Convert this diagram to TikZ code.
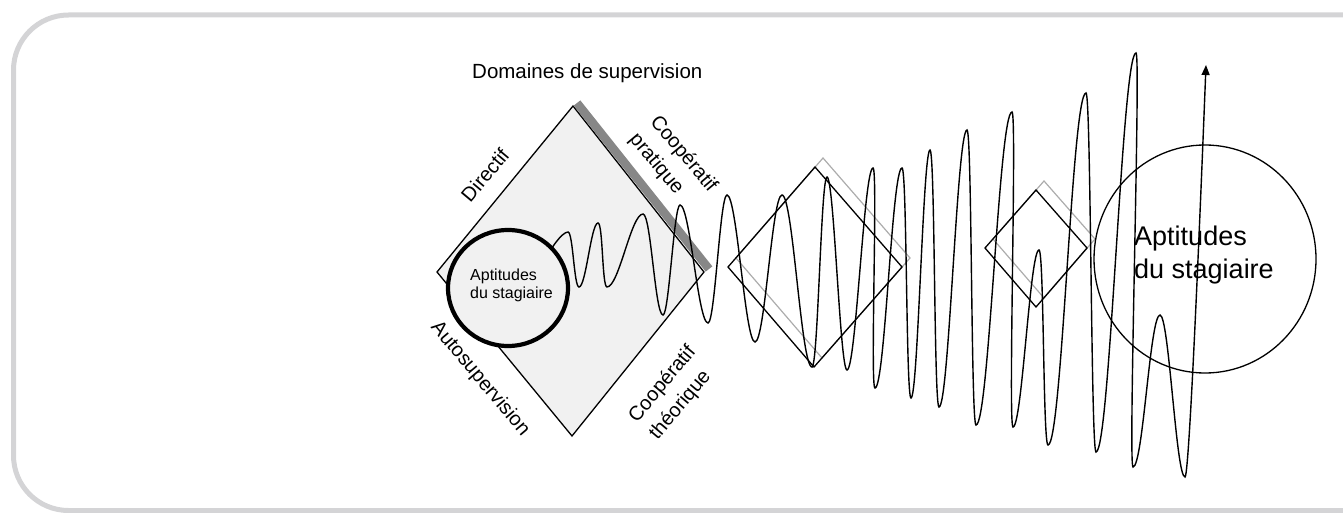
\documentclass[tikz,border=0pt]{standalone}
\usepackage{fontspec}
\setmainfont{Liberation Sans}
\usetikzlibrary{arrows.meta}
\definecolor{framegray}{RGB}{212,212,214}
\definecolor{dfill}{RGB}{241,241,241}
\definecolor{bargray}{RGB}{135,135,135}
\definecolor{ghostgray}{RGB}{172,172,172}
\newcommand{\fsz}[2]{\fontsize{#1}{#2}\selectfont}
\begin{document}
\begin{tikzpicture}[x=1pt,y=-1pt,
  outline/.style={line width=1.3pt, draw=black},
  ghostline/.style={line width=1.2pt, draw=ghostgray},
  wave/.style={line width=1.4pt, draw=black},
  lbl/.style={font=\fsz{20}{27}, inner sep=0pt},
]
\useasboundingbox (0,0) rectangle (1343,513);
\clip (0,0) rectangle (1343,513);
% frame
\draw[framegray, line width=5pt, rounded corners=55pt] (13.5,15) rectangle (1420,510.5);

% big diamond
\coordinate (L) at (437,272);
\coordinate (T) at (573,106);
\coordinate (R) at (704,272);
\coordinate (B) at (572,436);
\draw[outline, fill=dfill] (L) -- (T) -- (R) -- (B) -- cycle;
% grey bar
\coordinate (barA) at (577,103);
\coordinate (barB) at (709,269);
\draw[bargray, line width=8.5pt] (barA) -- (barB);

% ghost diamonds
\draw[ghostline] (736,258) -- (823,158) -- (910,258) -- (822,358) -- cycle;
\draw[ghostline] (993,239) -- (1044,181) -- (1095,239) -- (1044,298) -- cycle;

% wave
\coordinate (ws) at (545,262);
\coordinate (we) at (1206,65);
\draw[wave, -{Triangle[length=10pt,width=8pt]}] (ws)
  .. controls +(4,-12) and +(-6,0) .. (568,232)
  .. controls +(5,0) and +(-5,0) .. (579,287)
  .. controls +(7,0) and +(-7,0) .. (598,223)
  .. controls +(5,0) and +(-5,0) .. (607,287)
  .. controls +(12,0) and +(-12,0) .. (643,214)
  .. controls +(8,0) and +(-8,0) .. (663,315)
  .. controls +(6,0) and +(-6,0) .. (680,205)
  .. controls +(10,0) and +(-10,0) .. (708,323)
  .. controls +(7,0) and +(-7,0) .. (727,195)
  .. controls +(10,0) and +(-10,0) .. (755,342)
  .. controls +(10,0) and +(-10,0) .. (782,195)
  .. controls +(11,0) and +(-11,0) .. (812,367)
  .. controls +(6,0) and +(-6,0) .. (827,177)
  .. controls +(7,0) and +(-7,0) .. (847,370)
  .. controls +(9,0) and +(-9,0) .. (873,168)
  .. controls +(5,0) and +(-5,0) .. (875,388)
  .. controls +(10,0) and +(-10,0) .. (902,168)
  .. controls +(5,0) and +(-5,0) .. (911,398)
  .. controls +(7,0) and +(-7,0) .. (930,150)
  .. controls +(5,0) and +(-5,0) .. (939,407)
  .. controls +(10,0) and +(-10,0) .. (967,130)
  .. controls +(5,0) and +(-5,0) .. (976,425)
  .. controls +(13,0) and +(-13,0) .. (1012,112)
  .. controls +(5,0) and +(-5,0) .. (1013,427)
  .. controls +(9,0) and +(-9,0) .. (1039,250)
  .. controls +(5,0) and +(-5,0) .. (1048,445)
  .. controls +(14,0) and +(-14,0) .. (1086,93)
  .. controls +(5,0) and +(-5,0) .. (1096,452)
  .. controls +(14,0) and +(-14,0) .. (1136,53)
  .. controls +(5,0) and +(-5,0) .. (1133,467)
  .. controls +(10,0) and +(-10,0) .. (1160,315)
  .. controls +(9,0) and +(-9,0) .. (1185,477)
  .. controls +(5,0) and +(-2,50) .. (we);

% black diamonds
\draw[outline] (728,267) -- (815,167) -- (902,267) -- (814,367) -- cycle;
\draw[outline] (985,248) -- (1036,190) -- (1087,248) -- (1036,307) -- cycle;

% circles
\draw[line width=4.2pt, fill=dfill] (508,288) ellipse [x radius=60, y radius=58];
\draw[outline] (1205,259) ellipse [x radius=111, y radius=114];

% texts
\node[anchor=base west, font=\fsz{20.5}{24}, inner sep=0pt] (title) at (472,79) {Domaines de supervision};
\node[anchor=base west, font=\fsz{16}{18}, inner sep=0pt] (aptA) at (470,280) {Aptitudes};
\node[anchor=base west, font=\fsz{16}{18}, inner sep=0pt] (stagA) at (470,298) {du stagiaire};
\node[anchor=base west, font=\fsz{27}{32}, inner sep=0pt] (aptB) at (1134,245) {Aptitudes};
\node[anchor=base west, font=\fsz{27}{32}, inner sep=0pt] (stagB) at (1134,278) {du stagiaire};

\node[lbl, rotate=50] (dir) at (485,175) {Directif};
\node[lbl, rotate=-50, align=left] (cpra) at (673,163) {Coopératif\\pratique};
\node[lbl, rotate=-50] (auto) at (480,379) {Autosupervision};
\node[lbl, rotate=50, align=left] (cthe) at (673,393) {Coopératif\\théorique};
\end{tikzpicture}
\end{document}
